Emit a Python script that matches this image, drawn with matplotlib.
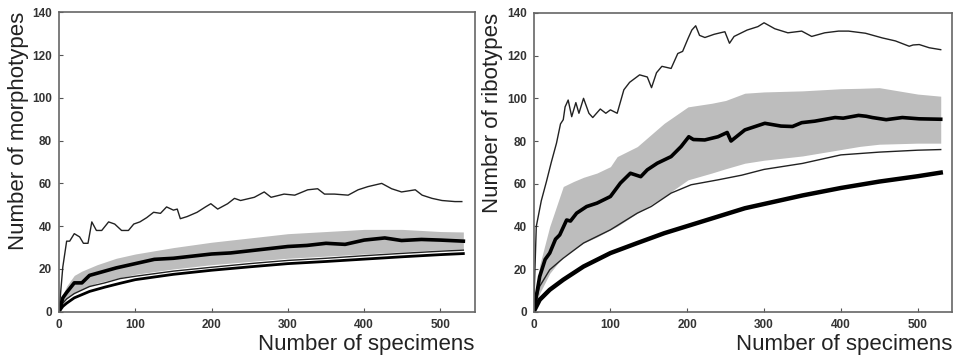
import matplotlib
matplotlib.use('Agg')
import matplotlib.pyplot as plt

plt.rcParams['font.family'] = ['Liberation Sans', 'DejaVu Sans']

# --- morphotypes (left panel) ---
m_max_x = [0, 5, 10, 14, 20, 27, 32, 38, 43, 49, 56, 65, 73, 82, 91, 98, 106, 115, 124, 133, 141, 150, 155,
           159, 168, 181, 192, 199, 208, 221, 230, 238, 256, 269, 278, 295, 309, 326, 339, 348, 361, 379, 392,
           405, 423, 436, 449, 467, 476, 489, 502, 519, 528]
m_max_y = [0, 21, 33, 33, 36.5, 35, 32, 32, 42, 38, 38, 42, 41, 38, 38, 41, 42, 44, 46.5, 46, 49, 47.5, 48,
           43.5, 44.5, 46.5, 49, 50.5, 48, 50.5, 53, 52, 53.5, 56, 53.5, 55, 54.5, 57, 57.5, 55, 55, 54.5, 57,
           58.5, 60, 57.5, 56, 57, 54.5, 53, 52, 51.5, 51.5]

m_mean_x = [0, 5, 10, 20, 30, 40, 50, 75, 100, 125, 150, 175, 200, 225, 250, 275, 300, 325, 350, 375, 400,
            427, 449, 475, 500, 530]
m_mean_y = [0, 6.5, 9, 13.5, 13.5, 17, 18, 20.5, 22.5, 24.5, 25, 26, 27, 27.5, 28.5, 29.5, 30.5, 31, 32, 31.5,
            33.5, 34.5, 33.3, 33.8, 33.5, 33]

m_band_x = [0, 5, 10, 20, 30, 50, 75, 100, 150, 200, 250, 300, 350, 400, 450, 500, 530]
m_band_hi = [0, 8, 12, 17, 19, 22, 25, 27, 30, 32.5, 34.5, 36.5, 37.5, 38.5, 38.5, 37.5, 37.3]
m_band_lo = [0, 4, 6, 9, 10.5, 13.5, 15.5, 17.5, 20, 22, 23.5, 25, 26, 27, 28, 29, 29.3]

m_lo_x = [0, 5, 10, 20, 40, 60, 80, 100, 150, 200, 250, 300, 350, 400, 450, 500, 530]
m_lo_y = [0, 4, 6, 8.5, 11.8, 13.5, 15.5, 16.6, 19, 20.8, 22.5, 24, 25, 26.2, 27.3, 28.3, 28.8]
m_base_y = [0, 2.5, 4, 6.5, 9.5, 11.5, 13.3, 15, 17.5, 19.4, 21, 22.5, 23.5, 24.6, 25.7, 26.7, 27.2]

# --- ribotypes (right panel) ---
r_max_x = [0, 3.5, 10, 16.7, 23, 29.8, 35, 38.6, 41, 45, 49.6, 55, 59, 65, 72, 77, 86.8, 94, 100, 108.8,
           117.5, 125, 138, 148, 153.5, 160, 167, 179, 187.7, 194, 201, 206, 211, 216, 223, 235, 243, 249, 255,
           261, 278, 292, 300, 314, 331, 349, 362, 379, 397, 410, 432, 454, 471, 489, 494, 502, 515, 530]
r_max_y = [0, 40, 52, 61, 70, 79, 88, 90, 96, 99.2, 91.4, 98, 93, 100, 93, 91, 95, 93, 94.6, 93,
           104, 107.5, 111, 110, 105, 112, 115, 114, 121, 122, 128, 132, 134, 129.5, 128.5, 130, 130.7, 131.2, 125.8,
           129, 132, 133.6, 135.4, 132.6, 130.7, 131.5, 129, 130.7, 131.5, 131.5, 130.5, 128.3, 126.9, 124.4, 125,
           125.2, 123.7, 122.8]

r_mean_x = [0, 7.9, 15, 21, 28.5, 34, 43, 48, 56, 69, 82.5, 100, 113, 126, 139.5, 148, 161, 179, 192, 202,
            208, 222.8, 240, 252, 257, 275, 301, 322, 337, 349, 366, 392.5, 403, 423, 433, 441, 459, 480, 502, 530]
r_mean_y = [0, 16.5, 24.5, 27.5, 34, 36, 43, 42.5, 46.2, 49.3, 50.9, 54, 60.3, 64.9, 63.3, 66.5, 69.6, 72.7,
            77.4, 82, 80.7, 80.5, 82, 84, 80, 85.2, 88.3, 87, 86.8, 88.6, 89.3, 91, 90.7, 92, 91.6, 91, 90, 91,
            90.4, 90.2]

r_band_x = [0, 8, 21, 38.6, 51.8, 65, 82.5, 100, 108.8, 135, 170, 201, 232, 250, 275, 300, 350, 400, 425,
            450, 500, 530]
r_band_hi = [0, 22, 40, 58.7, 61, 63, 65, 68, 72.7, 77.4, 88.3, 96, 97.7, 99, 102.4, 103, 103.5, 104.5,
             104.7, 105, 102, 101]
r_band_lo = [0, 8.7, 18, 25.9, 29, 32.2, 35, 38.4, 40, 46.2, 54, 61.8, 65, 67, 69.6, 71, 73, 76, 77.5,
             78.5, 79, 79]

r_lo_x = [0, 7.9, 21, 38.6, 65, 100, 135, 153, 179, 205, 240, 271, 300, 350, 400, 450, 500, 530]
r_lo_y = [0, 11.9, 19.7, 25.1, 32.2, 38.4, 46.2, 49.3, 55.6, 59.5, 61.8, 64, 66.7, 69.5, 73.5, 74.8, 75.7, 76]

r_base_x = [0, 7.9, 21, 38.6, 65, 100, 135, 170, 205, 240, 275, 300, 350, 400, 450, 500, 530]
r_base_y = [0, 5.6, 10.3, 15, 21.2, 27.5, 32.2, 36.8, 40.7, 44.6, 48.5, 50.5, 54.5, 58, 61, 63.5, 65.2]

fig = plt.figure(figsize=(9.58, 3.6), dpi=100)
ax1 = fig.add_axes([0.0616, 0.134, 0.434, 0.832])
ax2 = fig.add_axes([0.557, 0.134, 0.437, 0.830])

band = '#bdbdbd'

ax1.fill_between(m_band_x, m_band_lo, m_band_hi, color=band, lw=0)
ax1.plot(m_max_x, m_max_y, color='#222222', lw=1.0)
ax1.plot(m_lo_x, m_lo_y, color='#222222', lw=1.0)
ax1.plot(m_lo_x, m_base_y, color='black', lw=2.0)
ax1.plot(m_mean_x, m_mean_y, color='black', lw=2.6)

ax2.fill_between(r_band_x, r_band_lo, r_band_hi, color=band, lw=0)
ax2.plot(r_max_x, r_max_y, color='#222222', lw=1.0)
ax2.plot(r_lo_x, r_lo_y, color='#222222', lw=1.0)
ax2.plot(r_base_x, r_base_y, color='black', lw=3.2)
ax2.plot(r_mean_x, r_mean_y, color='black', lw=2.6)

for ax, ylab in [(ax1, 'Number of morphotypes'), (ax2, 'Number of ribotypes')]:
    ax.set_xlim(0, 545)
    ax.set_ylim(0, 140)
    ax.set_xticks([0, 100, 200, 300, 400, 500])
    ax.set_yticks(range(0, 141, 20))
    ax.tick_params(direction='in', length=3, width=0.8, color='#555555', labelsize=8.5,
                   labelcolor='#333333', pad=5)
    for lab in ax.get_xticklabels() + ax.get_yticklabels():
        lab.set_fontweight('bold')
    for s in ax.spines.values():
        s.set_color('#666666')
        s.set_linewidth(1.2)
    ax.set_xlabel('Number of specimens', fontsize=16, color='#222222', ha='right', labelpad=0)
    ax.xaxis.set_label_coords(1.0, -0.075)
    ax.xaxis.label.set_va('top')
    ax.set_ylabel(ylab, fontsize=16, color='#222222', ha='right', va='center', labelpad=0)
    ax.yaxis.set_label_coords(-0.098, 1.0)

fig.savefig('out.png', dpi=100, facecolor='white')
